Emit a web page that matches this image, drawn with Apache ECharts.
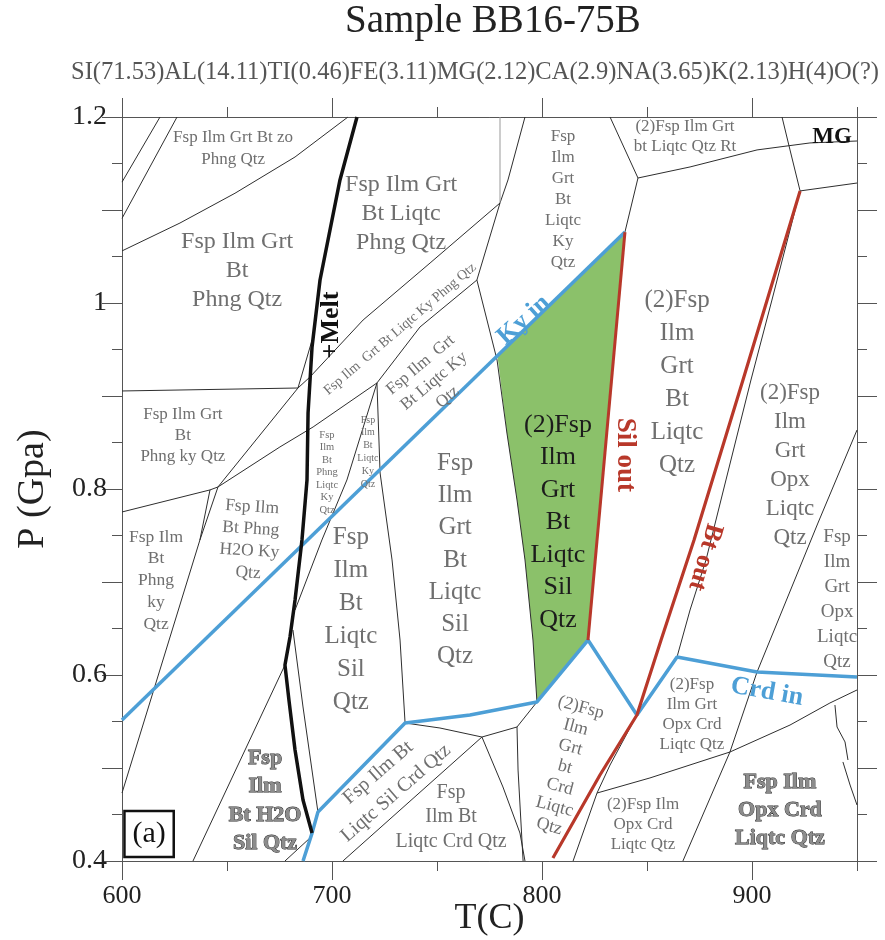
<!DOCTYPE html>
<html><head><meta charset="utf-8">
<script src="https://cdn.jsdelivr.net/npm/echarts@6/dist/echarts.min.js"></script>
<style>html,body{margin:0;padding:0;background:#fff}#c{width:885px;height:940px}</style>
</head><body><div id="c"></div>
<script>
// ---------------- DATA (T in °C, P in GPa) ----------------
const chartTitle = 'Sample BB16-75B';
const bulkComposition = 'SI(71.53)AL(14.11)TI(0.46)FE(3.11)MG(2.12)CA(2.9)NA(3.65)K(2.13)H(4)O(?)';
const tempTickLabels = [600, 700, 800, 900];
const tempMinorTicks = [650, 750, 850, 950];
const presTickLabels = [0.4, 0.6, 0.8, 1.0, 1.2];

// thick phase-in / phase-out lines
const meltIn = [[711.9,1.2],[703.8,1.1323],[694.3,1.0247],[690.5,0.9527],[688.6,0.8817],[688.1,0.8097],[685.7,0.7452],[682.4,0.6807],[680.0,0.6409],[677.6,0.6108],[679.5,0.573],[682.4,0.5194],[686.2,0.4656],[690.5,0.4301]];
const kyIn = [[600,0.5516],[839.5,1.0763]];
const silOut = [[839.5,1.0763],[821.9,0.6376]];
const btOut = [[922.9,1.1205],[895.7,0.9172],[872.4,0.7452],[856.7,0.6376],[845.2,0.557],[827.6,0.4925],[805.2,0.4032]];
const crdIn = [[686.2,0.4],[690.5,0.430],[693.3,0.4527],[734.8,0.5484],[765.7,0.557],[797.6,0.571],[821.9,0.6376],[845.2,0.557],[864.3,0.6194],[902.4,0.6032],[950,0.5979]];

// shaded field (2)Fsp Ilm Grt Bt Liqtc Sil Qtz
const shadedField = [[778.8,0.943],[839.5,1.0763],[821.9,0.6376],[797.6,0.571],[795.7,0.6376],[791.9,0.7237],[788.1,0.7882],[783.3,0.8602],[778.8,0.943]];

// thin field boundaries
const bndA = [[600,1.130],[618.1,1.2]];
const bndB = [[600,1.091],[626.2,1.2]];
const bndC = [[600,1.056],[627.6,1.086],[653.8,1.118],[682.4,1.157],[707.6,1.2]];
const bndD = [[600,0.9054],[683.8,0.9086],[690.5,0.960]];
const bandUpper = [[780.0,1.1075],[746.7,1.043],[714.8,0.9817],[689.5,0.9204],[683.8,0.9086],[645.7,0.8022]];
const bandLower = [[769.0,1.0247],[741.9,0.9742],[721.4,0.914],[691.0,0.8667],[675.2,0.8452],[645.7,0.8022]];
const bndE = [[600,0.7753],[641.9,0.799],[645.7,0.8022]];
const bndF = [[645.7,0.8022],[637.1,0.7452],[600,0.4731]];
const bndF2 = [[641.9,0.799],[637.1,0.7452]];
const bndG = [[677.6,0.6108],[633.8,0.4]];
const bndH = [[681.4,0.6484],[686.2,0.5656],[693.3,0.4527]];
const bndI = [[677.6,0.4],[689.5,0.4247]];
const bndJ = [[721.4,0.914],[707.1,0.8097],[695.2,0.7452],[682.4,0.6699]];
const bndK = [[721.4,0.914],[722.9,0.8172],[728.6,0.7237],[732.4,0.6376],[734.8,0.5484]];
const bndL = [[791.9,1.2],[783.8,1.1323],[780.0,1.1075],[769.0,1.0247],[778.6,0.9387],[783.3,0.8602],[788.1,0.7882],[791.9,0.7237],[795.7,0.6376],[797.6,0.571]];
const bndM = [[780,1.2],[780,1.1075]];
const bndN = [[705.2,0.4],[771.4,0.5333]];
const bndO = [[734.8,0.5484],[751.4,0.543],[771.4,0.5333],[788.1,0.5441],[797.6,0.571]];
const bndP = [[771.4,0.5333],[781.4,0.4796],[789.5,0.4301],[791.9,0.4]];
const bndQ = [[788.1,0.5441],[788.6,0.4978],[791.0,0.4]];
const bndR = [[832.4,1.2],[845.7,1.1344],[839.5,1.0763]];
const bndS = [[845.7,1.1344],[870.5,1.1463],[902.4,1.1646],[927.6,1.1721],[950,1.1742]];
const bndT = [[914.3,1.2],[918.1,1.1646],[922.9,1.1205],[950,1.129]];
const bndU = [[922.9,1.1205],[909.5,1.0032],[899.5,0.9172],[887.6,0.8097],[878.1,0.7237],[870.5,0.6699],[864.3,0.6194]];
const bndV = [[845.2,0.557],[832.4,0.5032],[826.2,0.4731],[814.8,0.4]];
const bndW = [[826.2,0.4731],[851.4,0.4893],[889.5,0.5172],[918.1,0.5462],[937.1,0.5699],[950,0.5839]];
const bndX = [[867.1,0.4],[889.5,0.5172],[902.4,0.6032],[931.4,0.7634],[950,0.8634]];
const bndY = [[939.5,0.5677],[940.5,0.5441],[944.3,0.528],[945.7,0.5086]];
const bndZ = [[943.3,0.5065],[946.7,0.4817],[950,0.4602]];

// field labels: anchor [T, P]
const labelAnchors = [
  [652.9,1.1656],[654.8,1.0344],[732.9,1.0957],[810.0,1.1108],[868.1,1.1785],[938.1,1.1785],
  [864.3,0.914],[918.1,0.8253],[940.5,0.6812],[807.6,0.764],[758.6,0.7237],[709.0,0.6597],
  [629.0,0.857],[661.0,0.7452],[616.2,0.7016],[697.6,0.8177],[717.1,0.8398],[732.4,0.972],
  [748.6,0.9161],[726.2,0.4839],[756.7,0.4473],[811.0,0.5011],[871.4,0.5575],[848.1,0.4387],
  [913.3,0.4548],[668.1,0.4645],[699.5,0.9763],[791.4,0.9817],[839.5,0.8366],[877.6,0.7269],
  [907.1,0.5817],[612.9,0.429]
];
const labelTexts = [
  'Fsp Ilm Grt Bt zo\nPhng Qtz','Fsp Ilm Grt\nBt\nPhng Qtz','Fsp Ilm Grt\nBt Liqtc\nPhng Qtz',
  'Fsp\nIlm\nGrt\nBt\nLiqtc\nKy\nQtz','(2)Fsp Ilm Grt\nbt Liqtc Qtz Rt','MG',
  '(2)Fsp\nIlm\nGrt\nBt\nLiqtc\nQtz','(2)Fsp\nIlm\nGrt\nOpx\nLiqtc\nQtz','Fsp\nIlm\nGrt\nOpx\nLiqtc\nQtz',
  '(2)Fsp\nIlm\nGrt\nBt\nLiqtc\nSil\nQtz','Fsp\nIlm\nGrt\nBt\nLiqtc\nSil\nQtz','Fsp\nIlm\nBt\nLiqtc\nSil\nQtz',
  'Fsp Ilm Grt\nBt\nPhng ky Qtz','Fsp Ilm\nBt Phng\nH2O Ky\nQtz','Fsp Ilm\nBt\nPhng\nky\nQtz',
  'Fsp\nIlm\nBt\nPhng\nLiqtc\nKy\nQtz','Fsp\nIlm\nBt\nLiqtc\nKy\nQtz','Fsp Ilm  Grt Bt Liqtc Ky Phng Qtz',
  'Fsp Ilm  Grt\nBt Liqtc Ky\nQtz','Fsp Ilm Bt\nLiqtc Sil Crd Qtz','Fsp\nIlm Bt\nLiqtc Crd Qtz',
  '(2)Fsp\nIlm\nGrt\nbt\nCrd\nLiqtc\nQtz','(2)Fsp\nIlm Grt\nOpx Crd\nLiqtc Qtz','(2)Fsp Ilm\nOpx Crd\nLiqtc Qtz',
  'Fsp Ilm\nOpx Crd\nLiqtc Qtz','Fsp\nIlm\nBt H2O\nSil Qtz','+Melt','Ky in','Sil out','Bt out','Crd in','(a)'
];

// ---------------- STYLES ----------------
const FONT = '"Liberation Serif","DejaVu Serif",serif';
const GRAY = '#6f6f6f';
const BLUE = '#4d9fd6';
const RED = '#b8382a';
const GREEN = '#8bc16a';
const labelStyles = [
  {size:17, lh:22},{size:24, lh:29},{size:24, lh:29},{size:17, lh:21},{size:17, lh:20},{size:23, bold:true, color:'#111'},
  {size:25, lh:33},{size:23, lh:29},{size:19, lh:25},{size:26, lh:32.5, color:'#1c1c1c'},{size:25, lh:32.3},{size:25, lh:33},
  {size:17, lh:21},{size:17.5, lh:22, rot:-3.5},{size:17.5, lh:21.7},{size:10.5, lh:12.5},{size:10, lh:12.8},{size:14, rot:40.5},
  {size:17, lh:21, rot:40},{size:20, lh:27, rot:41},{size:20, lh:24.5},{size:18, lh:20.5, rot:-15},{size:17, lh:20.3},{size:17, lh:20},
  {size:22, lh:28, bold:true, color:'#8c8c8c', stroke:'#2a2a2a', sw:0.9},{size:22, lh:28.5, bold:true, color:'#8c8c8c', stroke:'#2a2a2a', sw:0.9},
  {size:26, bold:true, color:'#111', rot:90},{size:26, bold:true, color:BLUE, rot:42},{size:27, bold:true, color:RED, rot:-90},
  {size:26, bold:true, color:RED, rot:-106},{size:26, bold:true, color:BLUE, rot:-10},
  {size:30, lh:34, color:'#111', box:true}
];

const thinBoundaries = [bndA,bndB,bndC,bndD,bandUpper,bandLower,bndE,bndF,bndF2,bndG,bndH,bndI,bndJ,bndK,bndL,bndN,bndO,bndP,bndQ,bndR,bndS,bndT,bndU,bndV,bndW,bndX,bndY,bndZ];

// ---------------- CHART ----------------
const chart = echarts.init(document.getElementById('c'), null, {renderer:'canvas'});
const AX = '#555';
function xAx(pos, interval, len, main) {
  return {
    type:'value', position:pos, min:600, max:950, interval:interval,
    axisLine:{show:true, onZero:false, lineStyle:{color:AX, width:1}},
    axisTick:{show:true, inside:false, length:len, lineStyle:{color:AX, width:1},
      customValues: interval === 100 ? tempTickLabels : tempTickLabels.concat(tempMinorTicks)},
    axisLabel: main ? {show:true, customValues: tempTickLabels, fontFamily:FONT, fontSize:26, color:'#222', margin:22,
      formatter: v => (tempTickLabels.indexOf(Math.round(v)) >= 0 ? String(Math.round(v)) : '')} : {show:false},
    splitLine:{show:false},
    name: main ? 'T(C)' : '', nameLocation:'middle', nameGap:40, nameMoveOverlap:false,
    nameTextStyle:{fontFamily:FONT, fontSize:36, color:'#222'}
  };
}
function yAx(pos, interval, len, main) {
  return {
    type:'value', position:pos, min:0.4, max:1.2, interval:interval,
    axisLine:{show:true, onZero:false, lineStyle:{color:AX, width:1}},
    axisTick:{show:true, inside:false, length:len, lineStyle:{color:AX, width:1}},
    axisLabel: main ? {show:true, customValues: presTickLabels, fontFamily:FONT, fontSize:28, color:'#222', margin:15,
      formatter: v => (Math.abs(v*5 - Math.round(v*5)) < 1e-6 ? String(+v.toFixed(1)) : '')} : {show:false},
    splitLine:{show:false},
    name: main ? 'P (Gpa)' : '', nameLocation:'middle', nameGap:70, nameRotate:90, nameMoveOverlap:false,
    nameTextStyle:{fontFamily:FONT, fontSize:38, color:'#222'}
  };
}

const series = [];
series.push({
  type:'custom', xAxisIndex:0, yAxisIndex:0, z:1, silent:true, data:[0],
  renderItem: function (params, api) {
    const pts = shadedField.map(p => api.coord(p));
    return {type:'polygon', shape:{points:pts}, style:{fill:GREEN, stroke:null}};
  }
});
thinBoundaries.forEach(d => series.push({
  type:'line', data:d, symbol:'none', showSymbol:false, silent:true, z:3,
  lineStyle:{color:'#2e2e2e', width:1}
}));
series.push({type:'line', data:bndM, symbol:'none', silent:true, z:3, lineStyle:{color:'#999', width:1}});
series.push({type:'line', data:kyIn, symbol:'none', silent:true, z:5, lineStyle:{color:BLUE, width:3.5}});
series.push({type:'line', data:crdIn, symbol:'none', silent:true, z:5, lineStyle:{color:BLUE, width:3.5}});
series.push({type:'line', data:silOut, symbol:'none', silent:true, z:6, lineStyle:{color:RED, width:3}});
series.push({type:'line', data:btOut, symbol:'none', silent:true, z:6, lineStyle:{color:RED, width:3.2}});
series.push({type:'line', data:meltIn, symbol:'none', silent:true, z:6, lineStyle:{color:'#111', width:3.5}});
series.push({
  type:'custom', xAxisIndex:0, yAxisIndex:0, z:10, silent:true, clip:false,
  data: labelAnchors,
  renderItem: function (params, api) {
    const i = params.dataIndex;
    const s = labelStyles[i];
    const pt = api.coord([api.value(0), api.value(1)]);
    const style = {
      text: labelTexts[i], fill: s.color || GRAY, fontFamily: FONT,
      fontSize: s.size, fontWeight: s.bold ? 'bold' : 'normal',
      lineHeight: s.lh || Math.round(s.size * 1.2),
      align:'center', verticalAlign:'middle'
    };
    if (s.stroke) { style.stroke = s.stroke; style.lineWidth = s.sw; }
    if (s.box) { style.borderColor = '#111'; style.borderWidth = 2.5; style.padding = [6, 8, 6, 8]; }
    return {type:'text', x:pt[0], y:pt[1], rotation:(s.rot || 0) * Math.PI / 180, style: style};
  }
});

chart.setOption({
  animation:false,
  backgroundColor:'#fff',
  grid:{left:122, right:28, top:117, bottom:79, containLabel:false, outerBoundsMode:'none'},
  xAxis:[xAx('bottom',100,19,true), xAx('bottom',50,10,false), xAx('top',100,19,false), xAx('top',50,10,false)],
  yAxis:[yAx('left',0.1,20,true), yAx('left',0.05,10,false), yAx('right',0.1,20,false), yAx('right',0.05,10,false)],
  graphic:[
    {type:'text', x:493, y:22, style:{text:chartTitle, fontFamily:FONT, fontSize:39, fill:'#222', align:'center', verticalAlign:'middle'}},
    {type:'text', x:475, y:73, style:{text:bulkComposition, fontFamily:FONT, fontSize:24.5, fill:'#555', align:'center', verticalAlign:'middle'}}
  ],
  series: series
});
</script></body></html>
